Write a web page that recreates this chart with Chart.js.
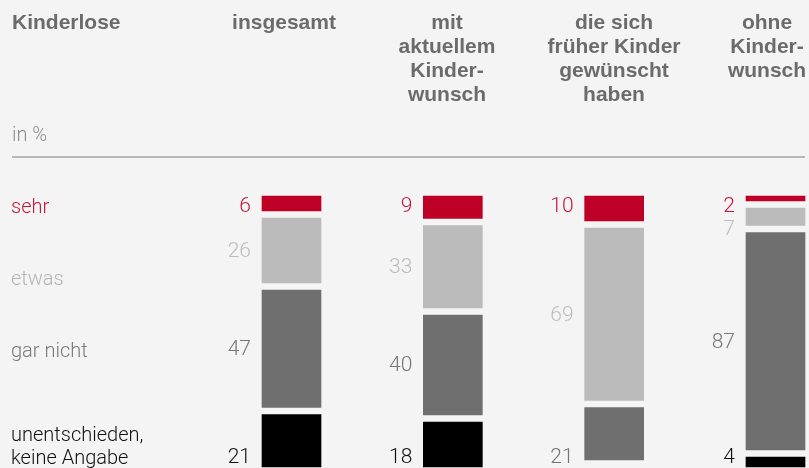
<!DOCTYPE html>
<html>
<head>
<meta charset="utf-8">
<script src="https://cdn.jsdelivr.net/npm/chart.js@4.4.1/dist/chart.umd.min.js"></script>
<style>
  html, body { margin: 0; padding: 0; background: #f4f4f4; overflow: hidden; }
  #wrap { position: relative; width: 809px; height: 468px; overflow: hidden; background: #f4f4f4; }
  #myChart { position: absolute; left: 0; top: 0; }
  .head { position: absolute; top: 10px; font: bold 21px/24px "Liberation Sans", Arial, sans-serif; color: #6b6b6b; }
  .col { width: 170px; margin-left: -85px; text-align: center; }
  .row { position: absolute; left: 11px; font: 300 20px/23px Roboto, "Liberation Sans", sans-serif; }
  #unit { position: absolute; left: 12px; top: 123px; font: 300 20px/23px Roboto, "Liberation Sans", sans-serif; color: #8e8e8e; }
  #rule { position: absolute; left: 12px; top: 156px; width: 793px; height: 2px; background: #b8b8b8; }
</style>
</head>
<body>
<div id="wrap">
  <canvas id="myChart" width="809" height="468"></canvas>
  <div class="head" style="left:12px">Kinderlose</div>
  <div class="head col" style="left:284px">insgesamt</div>
  <div class="head col" style="left:447px">mit<br>aktuellem<br>Kinder-<br>wunsch</div>
  <div class="head col" style="left:614px">die sich<br>früher Kinder<br>gewünscht<br>haben</div>
  <div class="head col" style="left:767px">ohne<br>Kinder-<br>wunsch</div>
  <div id="unit">in %</div>
  <div id="rule"></div>
  <div class="row" style="top:195px;color:#c8163a">sehr</div>
  <div class="row" style="top:267px;color:#b4b4b4">etwas</div>
  <div class="row" style="top:339px;color:#7a7a7a">gar nicht</div>
  <div class="row" style="top:423px;color:#111">unentschieden,<br>keine Angabe</div>
</div>
<script>
// categories (one bar each)
var categories = ["insgesamt", "mit aktuellem Kinderwunsch", "die sich früher Kinder gewünscht haben", "ohne Kinderwunsch"];

// answers in %
var sehr = [6, 9, 10, 2];
var etwas = [26, 33, 69, 7];
var garNicht = [47, 40, 21, 87];
var unentschieden = [21, 18, 0, 4];

// gap between segments (in % units)
var gap = 2.8;
var gaps = categories.map(function () { return gap; });

var redC = "#bf0026";
var lightC = "#bbbbbb";
var darkC = "#6f6f6f";
var blackC = "#000000";

// 0 -> null so an empty segment draws nothing
function noZero(arr) {
	return arr.map(function (v) { return v > 0 ? v : null; });
}

// value labels left of each bar
var valueLabels = {
	id: "valueLabels",
	afterDatasetsDraw: function (chart) {
		var ctx = chart.ctx;
		// datasets from top to bottom of the bar
		var order = [
			{ ds: 6, color: "#c8163a" },
			{ ds: 4, color: "#bdbdbd" },
			{ ds: 2, color: "#777777" },
			{ ds: 0, color: "#111111" },
		];
		ctx.save();
		ctx.font = "300 21px Roboto, 'Liberation Sans', sans-serif";
		ctx.textAlign = "right";
		ctx.textBaseline = "middle";
		for (var i = 0; i < categories.length; i++) {
			var segs = order.filter(function (o) {
				return chart.data.datasets[o.ds].data[i] > 0;
			});
			var prevY = null;
			for (var j = 0; j < segs.length; j++) {
				var el = chart.getDatasetMeta(segs[j].ds).data[i];
				var top = Math.min(el.y, el.base);
				var bottom = Math.max(el.y, el.base);
				var y = (top + bottom) / 2;
				if (j == 0) y = top + 10;
				if (prevY != null && y < prevY + 23) y = prevY + 23;
				if (j == segs.length - 1 && j > 0) y = chart.chartArea.bottom - 10;
				prevY = y;
				ctx.fillStyle = segs[j].color;
				ctx.fillText(String(chart.data.datasets[segs[j].ds].data[i]), el.x - el.width / 2 - 11, y + 1);
			}
		}
		ctx.restore();
	},
};

var ctx = document.getElementById("myChart").getContext("2d");
var myChart = new Chart(ctx, {
	type: "bar",
	data: {
		labels: categories,
		datasets: [
			{ label: "unentschieden, keine Angabe", data: noZero(unentschieden), backgroundColor: blackC },
			{ label: "gap1", data: gaps, backgroundColor: "rgba(0,0,0,0)" },
			{ label: "gar nicht", data: noZero(garNicht), backgroundColor: darkC },
			{ label: "gap2", data: gaps, backgroundColor: "rgba(0,0,0,0)" },
			{ label: "etwas", data: noZero(etwas), backgroundColor: lightC },
			{ label: "gap3", data: gaps, backgroundColor: "rgba(0,0,0,0)" },
			{ label: "sehr", data: noZero(sehr), backgroundColor: redC },
		],
	},
	options: {
		responsive: false,
		devicePixelRatio: 1,
		animation: false,
		datasets: {
			bar: { barThickness: 59, borderWidth: 0, clip: false },
		},
		layout: {
			padding: { left: 291.5, right: 33.5, top: 196, bottom: 1 },
		},
		scales: {
			x: { stacked: true, offset: false, display: false },
			y: { stacked: true, min: 0, max: 100 + 3 * gap, display: false },
		},
		plugins: {
			legend: { display: false },
			tooltip: { enabled: false },
		},
	},
	plugins: [valueLabels],
});
</script>
</body>
</html>
